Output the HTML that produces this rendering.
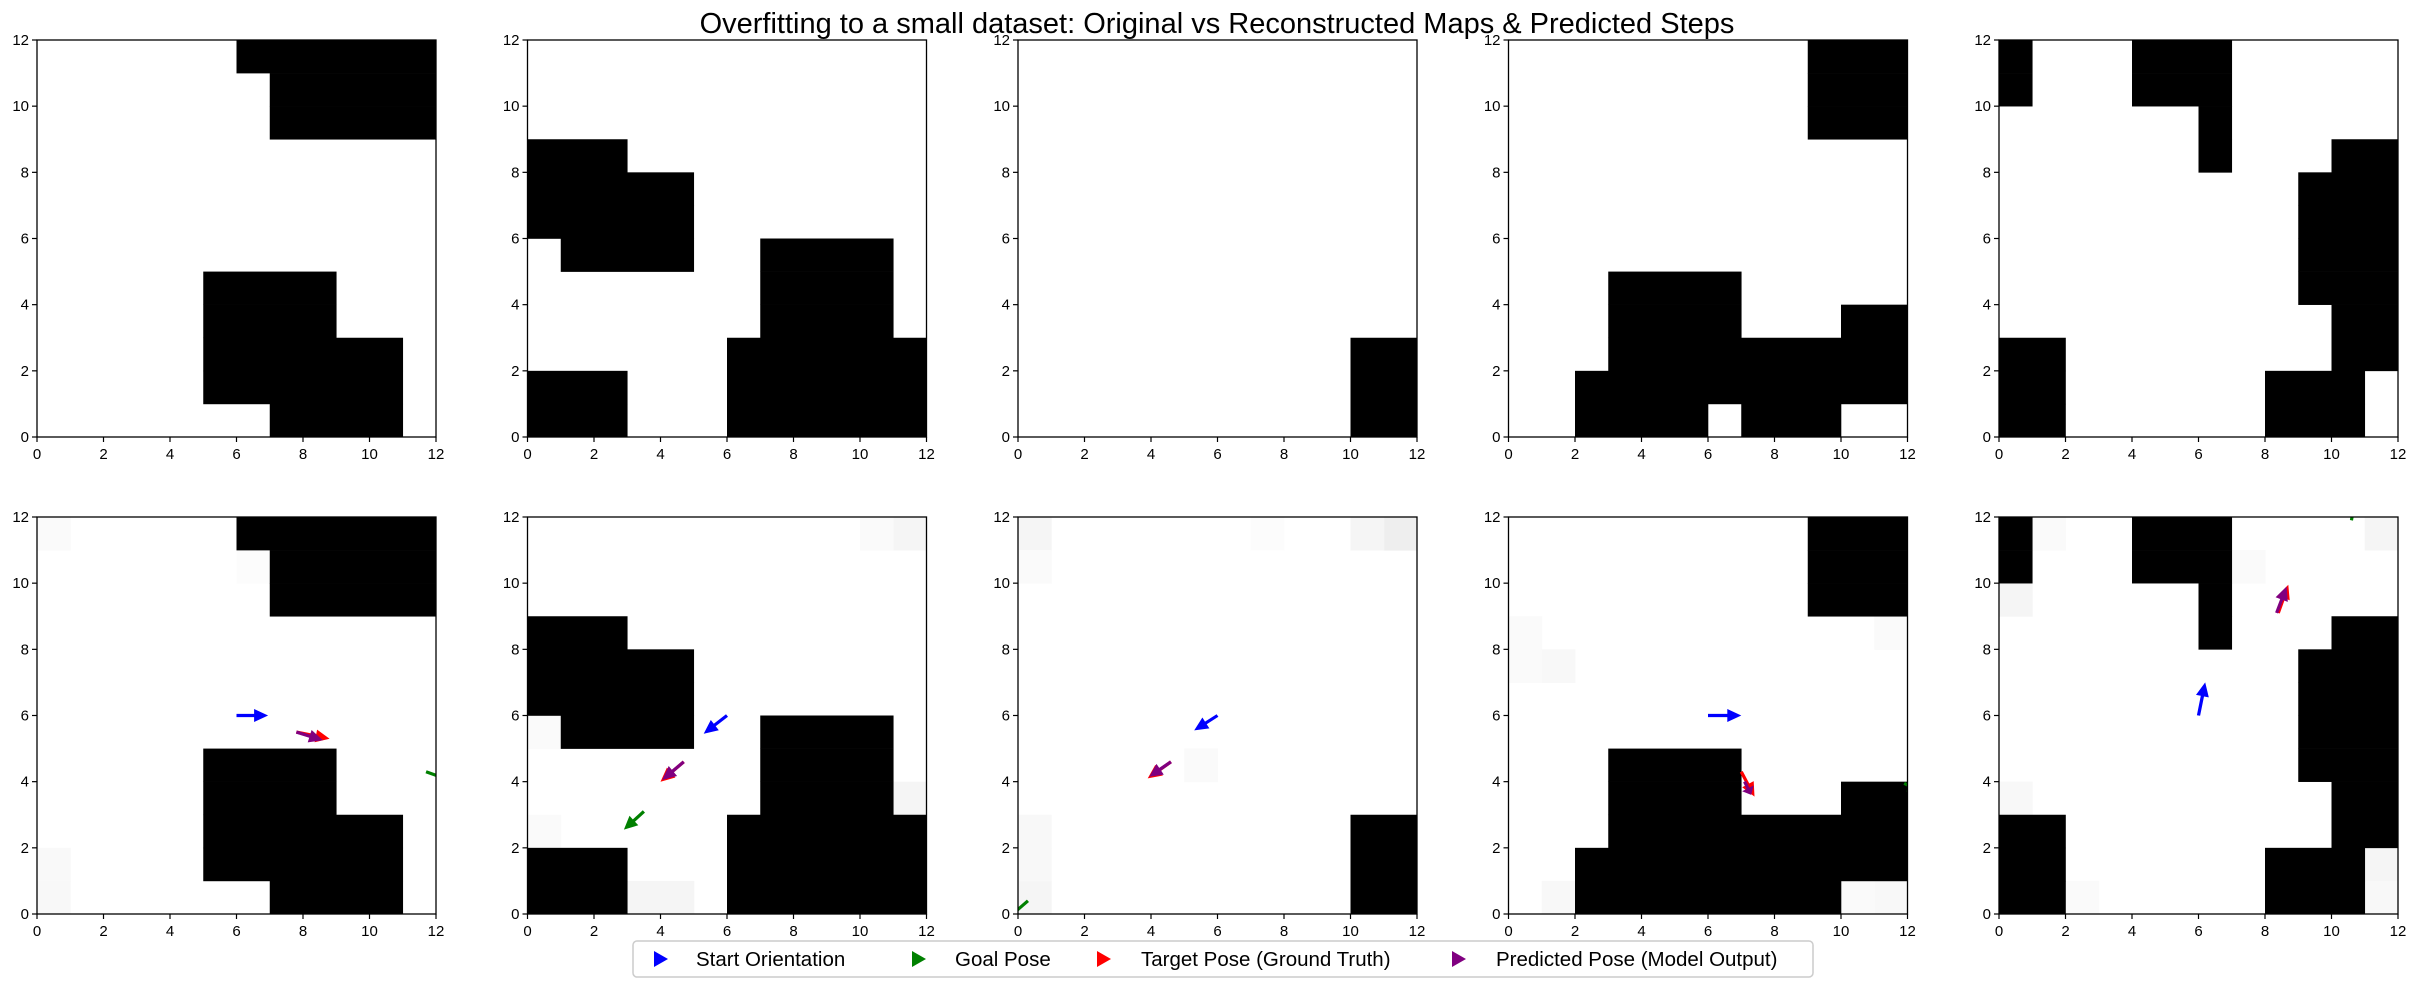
<!DOCTYPE html>
<html><head><meta charset="utf-8"><style>
body{margin:0;background:#fff;}
svg text{font-family:"Liberation Sans","DejaVu Sans",sans-serif;}
</style></head><body>
<svg id="fig" width="2415" height="985" xmlns="http://www.w3.org/2000/svg">
<rect width="2415" height="985" fill="#fff"/>
<text x="1217" y="33" font-size="29" text-anchor="middle">Overfitting to a small dataset: Original vs Reconstructed Maps &amp; Predicted Steps</text>
<g id="plots"></g>
<g>
<rect x="633" y="941" width="1180" height="36" rx="4" fill="#fff" stroke="#ccc" stroke-width="1.5"/>
<polygon points="654,951 668,959 654,967" fill="#0000ff"/>
<text x="696" y="966" font-size="20.5">Start Orientation</text>
<polygon points="912,951 926,959 912,967" fill="#008000"/>
<text x="955" y="966" font-size="20.5">Goal Pose</text>
<polygon points="1097,951 1111,959 1097,967" fill="#ff0000"/>
<text x="1141" y="966" font-size="20.5">Target Pose (Ground Truth)</text>
<polygon points="1452,951 1466,959 1452,967" fill="#800080"/>
<text x="1496" y="966" font-size="20.5">Predicted Pose (Model Output)</text>
</g>
</svg>
<script>
// Black cells per map: rows listed as [y, xFrom, xTo] (inclusive cell indices)
const map1 = [[11,6,11],[10,7,11],[9,7,11],[4,5,8],[3,5,8],[2,5,10],[1,5,10],[0,7,10]];
const map2 = [[8,0,2],[7,0,4],[6,0,4],[5,1,4],[5,7,10],[4,7,10],[3,7,10],[2,6,11],[1,6,11],[0,6,11],[1,0,2],[0,0,2]];
const map3 = [[2,10,11],[1,10,11],[0,10,11]];
const map4 = [[11,9,11],[10,9,11],[9,9,11],[4,3,6],[3,3,6],[3,10,11],[2,3,11],[1,2,11],[0,2,5],[0,7,9]];
const map4b = [[11,9,11],[10,9,11],[9,9,11],[4,3,6],[3,3,6],[3,10,11],[2,3,11],[1,2,11],[0,2,9]];
const map5 = [[11,0,0],[10,0,0],[11,4,6],[10,4,6],[9,6,6],[8,6,6],[8,10,11],[7,9,11],[6,9,11],[5,9,11],[4,9,11],[3,10,11],[2,10,11],[1,8,10],[0,8,10],[2,0,1],[1,0,1],[0,0,1]];
const origMaps = [map1, map2, map3, map4, map5];
const reconMaps = [map1, map2, map3, map4b, map5];
// faint reconstruction noise cells: [mapIndex, x, y, gray]
const faintCells = [[0,0,11,250],[0,0,1,249],[0,0,0,248],[0,6,10,252],[1,11,11,245],[1,10,11,250],[1,0,5,250],[1,11,3,245],[1,0,2,250],[1,3,0,245],[1,4,0,245],
 [2,0,11,245],[2,0,10,250],[2,11,11,238],[2,10,11,245],[2,7,11,252],[2,0,0,245],[2,0,1,248],[2,0,2,248],[2,5,4,250],
 [3,0,8,250],[3,0,7,250],[3,1,7,248],[3,11,8,250],[3,11,0,248],[3,10,0,250],[3,1,0,248],
 [4,0,9,245],[4,0,3,248],[4,11,1,245],[4,11,0,248],[4,11,11,245],[4,1,11,250],[4,2,0,250],[4,7,10,250]];
// Arrows in bottom row: [x0,y0,x1,y1] per plot
const startArrows = [[6,6,6.95,6],[6,6,5.3,5.45],[6,6,5.3,5.55],[6,6,7,6],[6,6,6.2,7]];
const goalArrows = [[11.7,4.3,12.4,4.05],[3.5,3.1,2.9,2.55],[0.3,0.4,-0.5,-0.3],[11.9,3.95,12.2,3.8],[10.6,11.9,10.65,12.2]];
const targetArrows = [[7.8,5.5,8.8,5.3],[4.7,4.6,4.0,4.0],[4.6,4.6,3.9,4.1],[7.0,4.3,7.4,3.55],[8.4,9.1,8.7,9.95]];
const predArrows = [[7.8,5.5,8.6,5.25],[4.7,4.6,4.05,4.05],[4.6,4.6,3.95,4.15],[7.1,4.0,7.3,3.6],[8.35,9.1,8.65,9.9]];
const tickVals = [0,2,4,6,8,10,12];

const NS = "http://www.w3.org/2000/svg";
const lefts = [37,527.5,1018,1508.5,1999];
const tops = [40,517];
const W = 399, H = 397;
const plots = document.getElementById('plots');
function mk(tag, attrs, parent){const e=document.createElementNS(NS,tag);for(const k in attrs)e.setAttribute(k,attrs[k]);parent.appendChild(e);return e;}

function drawAxes(col,row,cells,faint,arrows){
  const L=lefts[col], T=tops[row];
  const sx=v=>L+v/12*W, sy=v=>T+H-v/12*H;
  const g=mk('g',{},plots);
  
  
  mk('rect',{x:L,y:T,width:W,height:H,fill:'#fff'},g);
  if(faint){faint.filter(f=>f[0]===col).forEach(f=>{
    const r=mk('rect',{x:sx(f[1]),y:sy(f[2]+1),width:W/12+0.5,height:H/12+0.5,fill:`rgb(${f[3]},${f[3]},${f[3]})`},g);
    
    
  });}
  cells.forEach(c=>{
    const r=mk('rect',{x:sx(c[1]),y:sy(c[0]+1),width:sx(c[2]+1)-sx(c[1])+0.3,height:sy(c[0])-sy(c[0]+1)+0.3,fill:'#000'},g);
    
    
  });
  if(arrows){
    const clip=mk('clipPath',{id:'clip'+col},g);
    mk('rect',{x:L,y:T,width:W,height:H},clip);
    const ag=mk('g',{'clip-path':'url(#clip'+col+')'},g);
    arrows.forEach(([arr,color,name])=>{
      const a=arr[col];
      const x0=sx(a[0]),y0=sy(a[1]),x1=sx(a[2]),y1=sy(a[3]);
      const dx=x1-x0,dy=y1-y0,len=Math.hypot(dx,dy)||1,ux=dx/len,uy=dy/len,px=-uy,py=ux;
      const hl=Math.min(14,len*0.5),hw=6.5,sw=1.6;
      const bx=x1-ux*hl,by=y1-uy*hl;
      const pts=[[x0+px*sw,y0+py*sw],[bx+px*sw,by+py*sw],[bx+px*hw,by+py*hw],[x1,y1],[bx-px*hw,by-py*hw],[bx-px*sw,by-py*sw],[x0-px*sw,y0-py*sw]];
      const p=mk('polygon',{points:pts.map(q=>q[0].toFixed(1)+','+q[1].toFixed(1)).join(' '),fill:color},ag);
      
      
    });
  }
  mk('rect',{x:L,y:T,width:W,height:H,fill:'none',stroke:'#000','stroke-width':1.3},g);
  tickVals.forEach(v=>{
    mk('line',{x1:sx(v),x2:sx(v),y1:T+H,y2:T+H+5,stroke:'#000','stroke-width':1.2},g);
    const tx=mk('text',{x:sx(v),y:T+H+22,'font-size':15,'text-anchor':'middle'},g);
    tx.textContent=v;
    
    
    mk('line',{x1:L-5,x2:L,y1:sy(v),y2:sy(v),stroke:'#000','stroke-width':1.2},g);
    const ty=mk('text',{x:L-8,y:sy(v)+5,'font-size':15,'text-anchor':'end'},g);
    ty.textContent=v;
    
    
  });
}
for(let i=0;i<5;i++){
  drawAxes(i,0,origMaps[i],null,null);
  drawAxes(i,1,reconMaps[i],faintCells,[[goalArrows,'#008000','goal-arrow'],[startArrows,'#0000ff','start-arrow'],[targetArrows,'#ff0000','target-arrow'],[predArrows,'#800080','predicted-arrow']]);
}
</script>
</body></html>
